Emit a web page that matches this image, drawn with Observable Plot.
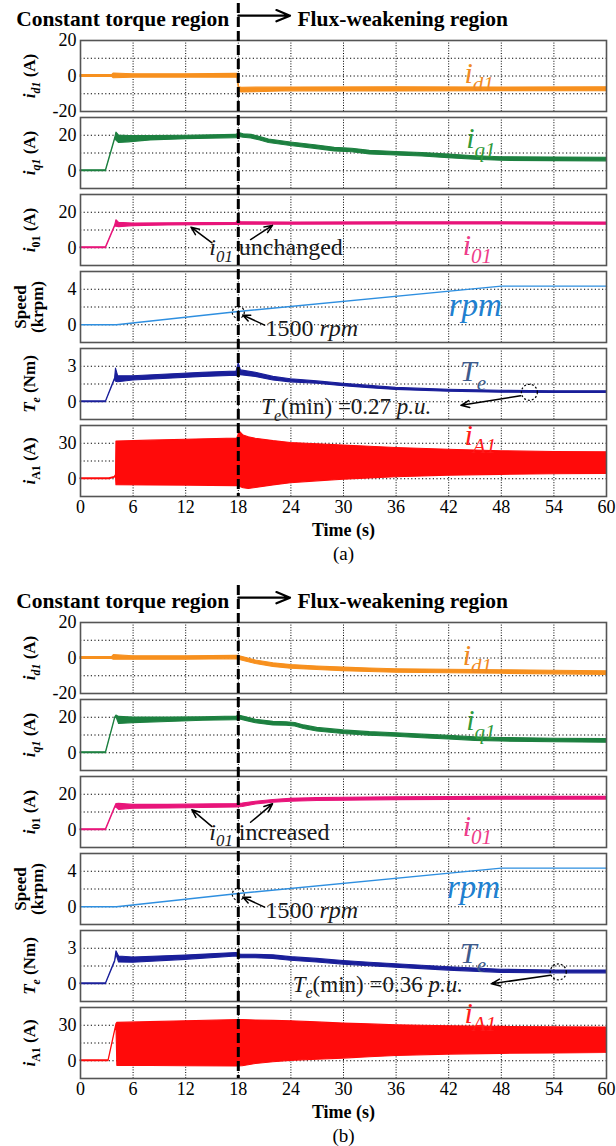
<!DOCTYPE html>
<html>
<head>
<meta charset="utf-8">
<script src="https://cdn.jsdelivr.net/npm/d3@7"></script>
<script src="https://cdn.jsdelivr.net/npm/@observablehq/plot@0.6"></script>
<style>
  html, body { margin: 0; padding: 0; background: #fff; }
  #chart { position: relative; width: 616px; height: 1146px; overflow: hidden; }
  #chart svg { position: absolute; left: 0; font-family: "Liberation Serif", "Times New Roman", serif; }
</style>
</head>
<body>
<div id="chart"></div>
<script>
// ---------- shared axes ----------
const timeDomain = [0, 60];
const timeTicks = [0, 6, 12, 18, 24, 30, 36, 42, 48, 54, 60];
const timeGrid = [6, 12, 18, 24, 30, 36, 42, 48, 54];
const boundaryTime = 18;            // constant torque -> flux-weakening
const headerArrowEnd = 23.9;
const fluxTextStart = 24.75;
const headerLevel = 34;             // header row, in i_d1 units

const rowDomains = [[-20, 20], [-10, 30], [-10, 30], [-2, 6], [-1.5, 4.5], [-15, 45]];
const rowTicks   = [[-20, 0, 20], [0, 20], [0, 20], [0, 4], [0, 3], [0, 30]];
const rowGrid    = [[-10, 0, 10], [0, 10, 20], [0, 10, 20], [0, 2, 4], [0, 1.5, 3], [0, 15, 30]];
const rowTitles  = ["id1 (A)", "iq1 (A)", "i01 (A)", "Speed\n(krpm)", "Te (Nm)", "iA1 (A)"];
const seriesLabels = ["id1", "iq1", "i01", "rpm", "Te", "iA1"];
const traceColors = ["#f7901e", "#1d8040", "#e8157a", "#2e8fe0", "#1a1f9a", "#ff0a0a"];
const labelColors = ["#f08a24", "#2f9a3c", "#ee3d8a", "#2080d0", "#3e5b8c", "#ff1a1a"];

// ---------- panel (a): i01 unchanged ----------
const tIdA  = [0, 3.6, 3.8, 6, 12, 17.9, 18.1, 18.4, 24, 36, 48, 60];
const loIdA = [-0.5, -0.5, -1.3, -0.9, -0.9, -1.0, -8.8, -9.3, -8.6, -8.7, -8.5, -8.6];
const hiIdA = [0.5, 0.5, 1.4, 1.0, 1.0, 1.2, -6.4, -6.6, -6.5, -6.4, -6.5, -6.4];

const tIqA  = [0, 2.9, 3.95, 4.1, 4.4, 5.5, 8, 12, 17.8, 18.1, 18.6, 19.5, 20.5, 21.5, 24, 27, 29, 31, 33, 36, 39, 42, 45, 48, 54, 60];
const hiIqA = [0.3, 0.3, 18.3, 21.5, 19.8, 19.6, 19.5, 19.7, 20.2, 21.3, 20.6, 20.2, 19.0, 17.6, 15.9, 14.2, 12.9, 12.4, 11.2, 10.6, 10.0, 9.1, 8.2, 7.6, 7.4, 7.3];
const loIqA = [-0.3, -0.3, 17.7, 17.0, 15.6, 16.0, 17.1, 17.8, 18.4, 19.1, 18.6, 18.2, 17.0, 15.6, 13.9, 12.2, 10.9, 10.4, 9.2, 8.6, 8.0, 7.1, 6.2, 5.6, 5.4, 5.3];

const tI0A  = [0, 2.9, 3.95, 4.1, 4.4, 6, 10, 17.8, 18.05, 18.3, 24, 36, 48, 60];
const hiI0A = [0.3, 0.3, 12.5, 15.5, 14.0, 13.6, 13.8, 14.0, 15.8, 14.3, 14.2, 14.3, 14.3, 14.2];
const loI0A = [-0.3, -0.3, 12.0, 11.8, 11.6, 12.2, 12.6, 12.9, 12.9, 13.0, 13.0, 13.1, 13.1, 13.0];

const tSpA = [0, 4.1, 18, 48, 60];
const vSpA = [0, 0, 1.5, 4.35, 4.35];

const tTeA  = [0, 2.9, 3.95, 4.05, 4.3, 6, 10, 14, 17.8, 18.05, 18.3, 20, 22, 24, 27, 30, 33, 36, 42, 48, 54, 60];
const hiTeA = [0.03, 0.03, 2.0, 2.8, 2.15, 2.15, 2.3, 2.45, 2.55, 3.25, 2.65, 2.45, 2.1, 1.9, 1.72, 1.52, 1.34, 1.17, 1.02, 0.93, 0.88, 0.88];
const loTeA = [-0.03, -0.03, 1.9, 1.7, 1.65, 1.8, 1.95, 2.1, 2.2, 2.15, 2.25, 2.1, 1.8, 1.64, 1.52, 1.32, 1.15, 1.0, 0.85, 0.77, 0.74, 0.74];

const tIaA  = [0, 3.3, 3.9, 4.05, 4.1, 8, 12, 17.9, 18.15, 18.6, 19.2, 20, 22, 24, 27, 30, 33, 36, 42, 48, 54, 60];
const hiIaA = [0.3, 0.3, 1.5, 3.0, 31.5, 32.2, 33.0, 34.0, 40.0, 36.5, 35.0, 33.8, 31.8, 30.2, 29.2, 28.0, 27.0, 26.0, 24.5, 23.2, 22.6, 22.4];
const loIaA = [-0.3, -0.3, 0.9, 2.0, -5.5, -5.6, -5.8, -6.2, -6.8, -8.0, -8.6, -7.8, -5.6, -3.8, -2.2, -0.9, 0.3, 1.3, 2.6, 3.3, 3.8, 4.1];

// ---------- panel (b): i01 increased ----------
const tIdB  = [0, 3.6, 3.8, 6, 12, 17.9, 18.5, 20, 22, 24, 27, 30, 33, 36, 42, 48, 54, 60];
const hiIdB = [0.5, 0.5, 1.6, 1.0, 1.0, 1.3, 0.5, -1.4, -3.0, -4.0, -4.8, -5.4, -5.9, -6.3, -6.6, -6.9, -7.2, -7.5];
const loIdB = [-0.5, -0.5, -1.0, -1.0, -1.0, -0.7, -1.5, -3.4, -5.0, -6.0, -6.8, -7.4, -7.9, -8.3, -8.6, -8.9, -9.2, -9.5];

const tIqB  = [0, 2.9, 3.95, 4.1, 4.4, 6, 10, 14, 17.8, 18.2, 19, 20, 22, 23.5, 24.5, 25.5, 27, 30, 33, 36, 39, 42, 45, 48, 54, 60];
const hiIqB = [0.3, 0.3, 19.8, 21.0, 20.2, 19.9, 19.9, 20.0, 20.4, 20.8, 19.8, 18.6, 17.4, 17.2, 16.8, 15.4, 14.0, 12.6, 11.6, 11.0, 10.2, 9.5, 8.7, 8.3, 7.9, 7.7];
const loIqB = [-0.3, -0.3, 19.2, 20.0, 16.2, 16.7, 17.3, 18.0, 18.4, 18.8, 17.8, 16.6, 15.4, 15.2, 14.8, 13.4, 12.0, 10.6, 9.6, 9.0, 8.2, 7.5, 6.7, 6.3, 5.9, 5.7];

const tI0B  = [0, 2.9, 3.95, 4.1, 4.4, 6, 10, 17.8, 18.5, 20, 22, 24, 27, 30, 36, 42, 48, 60];
const hiI0B = [0.3, 0.3, 12.8, 14.5, 14.6, 14.0, 14.0, 14.5, 14.8, 15.8, 16.8, 17.4, 17.8, 18.0, 18.3, 18.4, 18.5, 18.6];
const loI0B = [-0.3, -0.3, 12.2, 12.5, 11.2, 11.8, 12.0, 12.5, 12.8, 14.2, 15.2, 15.8, 16.2, 16.4, 16.7, 16.8, 16.9, 17.0];

const tSpB = [0, 4.1, 18, 48, 60];
const vSpB = [0, 0, 1.5, 4.35, 4.35];

const tTeB  = [0, 2.9, 3.95, 4.1, 4.4, 6, 12, 17.8, 18.3, 20, 22, 24, 27, 30, 33, 36, 42, 48, 54, 60];
const hiTeB = [0.03, 0.03, 1.95, 2.75, 2.3, 2.22, 2.38, 2.6, 2.45, 2.45, 2.4, 2.25, 2.1, 1.92, 1.78, 1.65, 1.39, 1.18, 1.12, 1.12];
const loTeB = [-0.03, -0.03, 1.85, 2.45, 1.8, 1.78, 2.02, 2.3, 2.15, 2.15, 2.1, 1.95, 1.8, 1.62, 1.48, 1.35, 1.11, 0.92, 0.88, 0.88];

const tIaB  = [0, 3.2, 4.1, 4.2, 8, 12, 17.9, 18.5, 20, 22, 24, 27, 30, 33, 36, 42, 48, 54, 60];
const hiIaB = [0.3, 0.3, 31.0, 32.0, 32.6, 33.4, 34.3, 34.4, 34.0, 33.7, 33.4, 32.4, 31.4, 30.7, 30.0, 29.1, 28.6, 28.3, 28.0];
const loIaB = [-0.3, -0.3, 30.4, -4.3, -4.5, -4.6, -4.8, -4.6, -2.8, -1.3, -0.1, 0.9, 1.8, 2.9, 4.0, 5.2, 5.8, 6.2, 6.6];

// ---------- series label anchors (time, value) ----------
const labelTimeA  = [43.8, 44.0, 43.6, 42.0, 43.3, 43.8];
const labelValueA = [1.5, 18, 1.5, 2.2, 2.55, 37];
const labelTimeB  = [43.6, 44.0, 43.6, 41.8, 43.3, 43.8];
const labelValueB = [1.5, 18, 2.0, 2.2, 2.55, 40];

// ---------- rich text (italics / subscripts) ----------
const RICH = {
  "id1 (A)": {size: 17, parts: [["i", "bi"], ["d1", "bis"], [" (A)", "b"]]},
  "iq1 (A)": {size: 17, parts: [["i", "bi"], ["q1", "bis"], [" (A)", "b"]]},
  "i01 (A)": {size: 17, parts: [["i", "bi"], ["01", "bs"], [" (A)", "b"]]},
  "Te (Nm)": {size: 17, parts: [["T", "bi"], ["e", "bis"], [" (Nm)", "b"]]},
  "iA1 (A)": {size: 17, parts: [["i", "bi"], ["A1", "bs"], [" (A)", "b"]]},
  "id1": {size: 30, parts: [["i", "i"], ["d1", "is"]]},
  "iq1": {size: 30, parts: [["i", "i"], ["q1", "is"]]},
  "i01": {size: 30, parts: [["i", "i"], ["01", "is"]]},
  "Te":  {size: 30, parts: [["T", "i"], ["e", "is"]]},
  "iA1": {size: 30, parts: [["i", "i"], ["A1", "is"]]},
  "i01 unchanged": {size: 24, parts: [["i", "i"], ["01", "is"], [" unchanged", ""]]},
  "i01 increased": {size: 24, parts: [["i", "i"], ["01", "is"], [" increased", ""]]},
  "1500 rpm": {size: 24, parts: [["1500 ", ""], ["rpm", "i"]]},
  "Te (min) =0.27 p.u.": {size: 23, parts: [["T", "i"], ["e", "is"], ["(min) =0.27 ", ""], ["p.u.", "i"]]},
  "Te (min) =0.36 p.u.": {size: 23, parts: [["T", "i"], ["e", "is"], ["(min) =0.36 ", ""], ["p.u.", "i"]]}
};

function enrich(svg) {
  const ns = "http://www.w3.org/2000/svg";
  for (const el of svg.querySelectorAll("text")) {
    const spec = RICH[el.textContent];
    if (!spec) continue;
    const F = spec.size;
    el.textContent = "";
    let shift = 0;
    for (const [str, st] of spec.parts) {
      const ts = document.createElementNS(ns, "tspan");
      ts.textContent = str;
      if (st.includes("b")) ts.setAttribute("font-weight", "bold");
      ts.setAttribute("font-style", st.includes("i") ? "italic" : "normal");
      const sub = st.includes("s");
      const target = sub ? 0.28 * F : 0;
      if (sub) ts.setAttribute("font-size", 0.7 * F);
      if (target !== shift) { ts.setAttribute("dy", target - shift); shift = target; }
      el.appendChild(ts);
    }
  }
  return svg;
}

// ---------- layout ----------
const W = 616, ML = 80, MR = 10;
const rowTops = [40, 117, 194, 271, 348, 425];
const rowH = 71;
const serif = '"Liberation Serif", "Times New Roman", serif';

const band = (t, lo, hi) => t.map((x, i) => ({t: x, lo: lo[i], hi: hi[i]}));
const path = (t, v) => t.map((x, i) => ({t: x, v: v[i]}));

const panels = [
  {
    top: 0, tag: "(a)",
    traces: [band(tIdA, loIdA, hiIdA), band(tIqA, loIqA, hiIqA), band(tI0A, loI0A, hiI0A),
             path(tSpA, vSpA), band(tTeA, loTeA, hiTeA), band(tIaA, loIaA, hiIaA)],
    labelT: labelTimeA, labelV: labelValueA,
    i0Note: {text: "i01 unchanged", t: 14.7, v: 0, size: 24,
             arrows: [{x1: 15.0, y1: 2.8, x2: 12.6, y2: 11.6}, {x1: 19.4, y1: 4.6, x2: 21.9, y2: 12.6}]},
    speedNote: {text: "1500 rpm", t: 21.1, v: -0.45, size: 24, ct: 18, cv: 1.4,
                arrow: {x1: 21.0, y1: -0.05, x2: 18.5, y2: 1.1}},
    teNote: {text: "Te (min) =0.27 p.u.", t: 20.6, v: -0.42, size: 23, ct: 51.2, cv: 0.8,
             arrow: {x1: 50.2, y1: 0.5, x2: 43.4, y2: -0.3}}
  },
  {
    top: 582, tag: "(b)",
    traces: [band(tIdB, loIdB, hiIdB), band(tIqB, loIqB, hiIqB), band(tI0B, loI0B, hiI0B),
             path(tSpB, vSpB), band(tTeB, loTeB, hiTeB), band(tIaB, loIaB, hiIaB)],
    labelT: labelTimeB, labelV: labelValueB,
    i0Note: {text: "i01 increased", t: 14.7, v: -1.2, size: 24,
             arrows: [{x1: 15.0, y1: 1.8, x2: 12.7, y2: 11.3}, {x1: 19.4, y1: 4.2, x2: 21.9, y2: 14.6}]},
    speedNote: {text: "1500 rpm", t: 21.1, v: -0.45, size: 24, ct: 18, cv: 1.4,
                arrow: {x1: 21.0, y1: -0.05, x2: 18.5, y2: 1.1}},
    teNote: {text: "Te (min) =0.36 p.u.", t: 24.2, v: -0.05, size: 23, ct: 54.5, cv: 1.0,
             arrow: {x1: 53.6, y1: 0.72, x2: 46.9, y2: 0.0}}
  }
];

const chart = document.getElementById("chart");

function noteText(n) {
  return Plot.text([n], {x: "t", y: "v", text: "text", textAnchor: "start",
    fontSize: n.size, fill: "#1a1a1a"});
}

const arrowStyle = {stroke: "#000", strokeWidth: 1.5, headLength: 9, headAngle: 45};

function drawRow(panel, r) {
  const first = r === 0, last = r === rowTops.length - 1;
  const mt = first ? rowTops[0] : 8;
  const mb = last ? 72 : 8;
  const marks = [
    Plot.ruleX(timeGrid, {stroke: "#000", strokeWidth: 1, strokeDasharray: "1,1.6"}),
    Plot.ruleY(rowGrid[r], {stroke: "#000", strokeWidth: 1, strokeDasharray: "1.2,2.4"})
  ];
  const data = panel.traces[r];
  if (r === 3) {
    marks.push(Plot.line(data, {x: "t", y: "v", stroke: traceColors[r], strokeWidth: 1.4}));
  } else {
    marks.push(Plot.areaY(data, {x: "t", y1: "lo", y2: "hi", fill: traceColors[r],
      stroke: traceColors[r], strokeWidth: 1.1}));
  }
  marks.push(Plot.frame({stroke: "#555", strokeWidth: 1.6}));

  // series name inside the panel
  marks.push(Plot.text([{t: panel.labelT[r], v: panel.labelV[r], s: seriesLabels[r]}],
    {x: "t", y: "v", text: "s", textAnchor: "start", fontSize: r === 3 ? 33 : 30,
     fontStyle: "italic", fill: labelColors[r]}));

  // rotated axis title
  marks.push(Plot.text([rowTitles[r]], {frameAnchor: "left", dx: -51, rotate: -90,
    textAnchor: "middle", lineAnchor: "middle",
    text: d => d, fontSize: 17, fontWeight: "bold", lineHeight: 1.0}));

  if (first) {
    marks.push(Plot.text(["Constant torque region"], {x: boundaryTime, frameAnchor: "top", dy: -30,
      dx: -9, textAnchor: "end", text: d => d, fontSize: 21.5, fontWeight: "bold"}));
    marks.push(Plot.text(["Flux-weakening region"], {x: fluxTextStart, frameAnchor: "top", dy: -30,
      textAnchor: "start", text: d => d, fontSize: 21.5, fontWeight: "bold"}));
    marks.push(Plot.arrow([{x1: boundaryTime, x2: headerArrowEnd, y: headerLevel}],
      {x1: "x1", x2: "x2", y1: "y", y2: "y", stroke: "#000", strokeWidth: 2.2, headLength: 10, headAngle: 45}));
  }
  if (r === 2) {
    const n = panel.i0Note;
    marks.push(noteText(n));
    marks.push(Plot.arrow(n.arrows, {x1: "x1", y1: "y1", x2: "x2", y2: "y2", ...arrowStyle}));
  }
  if (r === 3 || r === 4) {
    const n = r === 3 ? panel.speedNote : panel.teNote;
    marks.push(Plot.dot([n], {x: "ct", y: "cv", r: r === 3 ? 6 : 8, fill: "none",
      stroke: "#000", strokeWidth: 1.2, strokeDasharray: "2,2"}));
    marks.push(noteText(n));
    marks.push(Plot.arrow([n.arrow], {x1: "x1", y1: "y1", x2: "x2", y2: "y2", ...arrowStyle}));
  }
  if (last) {
    marks.push(Plot.text(["Time (s)"], {frameAnchor: "bottom", dy: 39, lineAnchor: "bottom",
      text: d => d, fontSize: 18, fontWeight: "bold"}));
    marks.push(Plot.text([panel.tag], {frameAnchor: "bottom", dy: 63, lineAnchor: "bottom",
      text: d => d, fontSize: 19}));
  }

  const svg = Plot.plot({
    width: W, height: rowH + mt + mb,
    marginLeft: ML, marginRight: MR, marginTop: mt, marginBottom: mb,
    x: last
      ? {domain: timeDomain, ticks: timeTicks, tickSize: 0, tickPadding: 4, label: null, tickFormat: d => String(d)}
      : {domain: timeDomain, axis: null},
    y: {domain: rowDomains[r], ticks: rowTicks[r], tickSize: 0, tickPadding: 4, label: null,
        tickFormat: d => String(d)},
    style: `font-family: ${serif}; font-size: 18px; background: none; overflow: visible; color: #000; top: ${panel.top + rowTops[r] - mt}px;`,
    marks
  });
  chart.appendChild(enrich(svg));
}

function drawDivider(panel) {
  const top = panel.top + 3;
  const h = rowTops[rowTops.length - 1] + rowH - 3;
  const svg = Plot.plot({
    width: W, height: h, marginLeft: ML, marginRight: MR, marginTop: 0, marginBottom: 0,
    x: {domain: timeDomain, axis: null},
    style: `background: none; pointer-events: none; top: ${top}px;`,
    marks: [Plot.ruleX([boundaryTime], {stroke: "#000", strokeWidth: 3, strokeDasharray: "10,4"})]
  });
  chart.appendChild(svg);
}

for (const panel of panels) {
  for (let r = 0; r < rowTops.length; ++r) drawRow(panel, r);
  drawDivider(panel);
}
</script>
</body>
</html>
